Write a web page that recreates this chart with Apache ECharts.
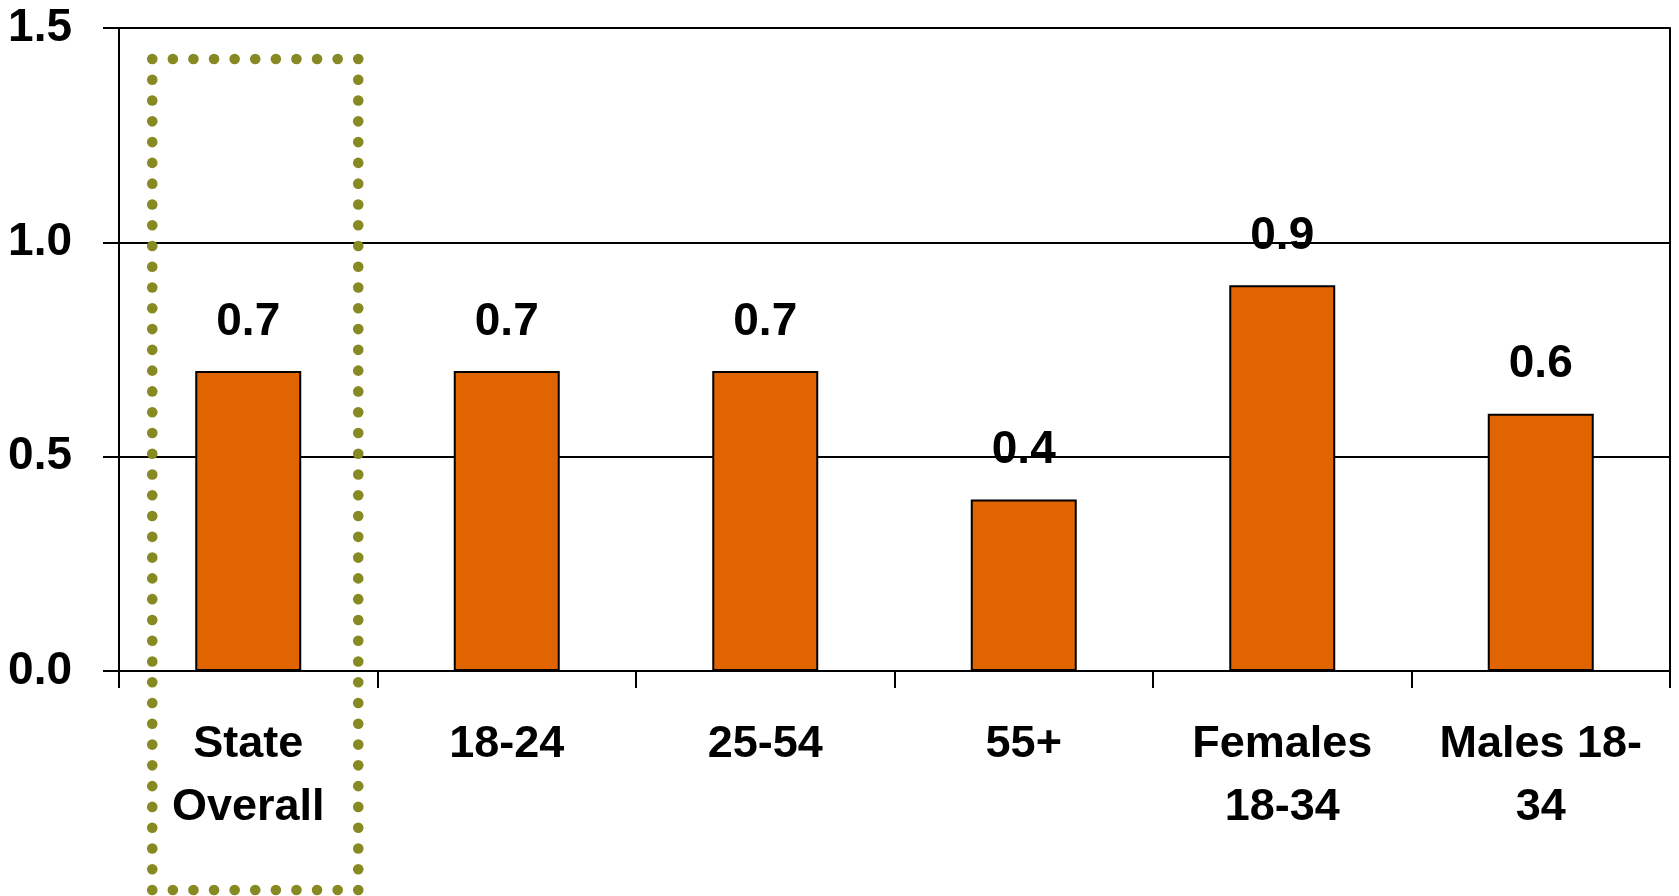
<!DOCTYPE html>
<html>
<head>
<meta charset="utf-8">
<title>Rate by group</title>
<script src="https://cdn.jsdelivr.net/npm/echarts@6/dist/echarts.min.js"></script>
<style>
  html, body { margin: 0; padding: 0; background: #fff; }
  #chart { width: 1679px; height: 896px; }
</style>
</head>
<body>
<div id="chart"></div>
<script>
// Groups along the x axis and their rates
const categories = ['State\nOverall', '18-24', '25-54', '55+', 'Females\n18-34', 'Males 18-\n34'];
const rates = [0.7, 0.7, 0.7, 0.4, 0.9, 0.6];
const yTicks = [0, 0.5, 1.0, 1.5];

const FONT = '"Liberation Sans", Arial, sans-serif';
const chart = echarts.init(document.getElementById('chart'));

chart.setOption({
  animation: false,
  backgroundColor: '#ffffff',
  grid: { left: 119, right: 9, top: 28, bottom: 225, containLabel: false },
  xAxis: {
    type: 'category',
    data: categories,
    axisLine: { show: true, lineStyle: { color: '#000', width: 2 } },
    axisTick: { show: true, length: 17, lineStyle: { color: '#000', width: 2 } },
    axisLabel: {
      interval: 0,
      margin: 42,
      color: '#000',
      fontFamily: FONT,
      fontWeight: 'bold',
      fontSize: 45,
      lineHeight: 63
    },
    splitLine: { show: false }
  },
  yAxis: [{
    type: 'value',
    min: yTicks[0],
    max: yTicks[yTicks.length - 1],
    interval: 0.5,
    axisLine: { show: true, lineStyle: { color: '#000', width: 2 } },
    axisTick: { show: true, length: 16, lineStyle: { color: '#000', width: 2 } },
    axisLabel: {
      margin: 47,
      color: '#000',
      fontFamily: FONT,
      fontWeight: 'bold',
      fontSize: 46,
      formatter: v => v.toFixed(1)
    },
    splitLine: { show: true, lineStyle: { color: '#000', width: 2 } }
  }, {
    type: 'value',
    position: 'right',
    min: yTicks[0],
    max: yTicks[yTicks.length - 1],
    interval: 0.5,
    axisLine: { show: true, lineStyle: { color: '#000', width: 2 } },
    axisTick: { show: false },
    axisLabel: { show: false },
    splitLine: { show: false }
  }],
  series: [{
    type: 'bar',
    data: rates,
    barWidth: '41%',
    itemStyle: { color: '#E06400', borderColor: '#000', borderWidth: 2 },
    label: {
      show: true,
      position: 'top',
      distance: 26,
      color: '#000',
      fontFamily: FONT,
      fontWeight: 'bold',
      fontSize: 46,
      formatter: p => p.value.toFixed(1)
    }
  }]
});

// Dotted highlight frame around the first group, drawn as a ring of round dots
const cx = chart.convertToPixel({ xAxisIndex: 0 }, categories[0]);
const frame = { left: cx + 7 - 103, top: 59, right: cx + 7 + 103, bottom: 890 };
const step = 21;
const dots = [];
function edge(x0, y0, x1, y1) {
  const len = Math.hypot(x1 - x0, y1 - y0);
  const n = Math.round(len / step);
  for (let i = 0; i < n; i++) {
    const t = i / n;
    dots.push({
      type: 'circle',
      shape: { cx: x0 + (x1 - x0) * t, cy: y0 + (y1 - y0) * t, r: 5.3 },
      style: { fill: '#878A22' },
      z: 100
    });
  }
}
edge(frame.left, frame.top, frame.right, frame.top);
edge(frame.right, frame.top, frame.right, frame.bottom);
edge(frame.right, frame.bottom, frame.left, frame.bottom);
edge(frame.left, frame.bottom, frame.left, frame.top);
chart.setOption({ graphic: dots });
</script>
</body>
</html>
